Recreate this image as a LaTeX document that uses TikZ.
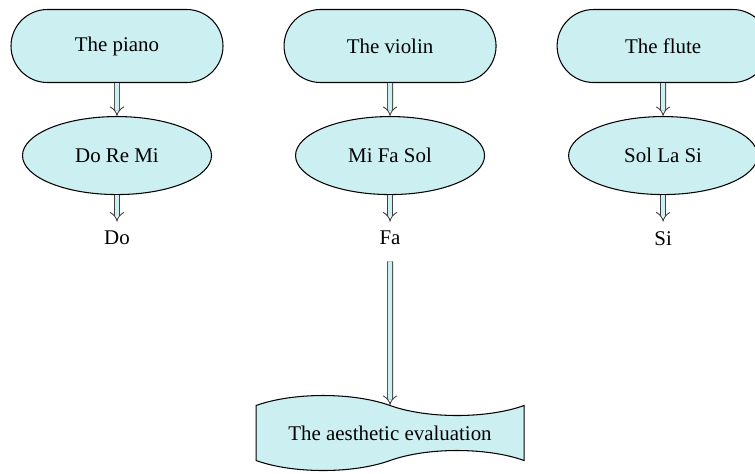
\documentclass[tikz,border=0pt]{standalone}
\usepackage{fontspec}
\setmainfont{Liberation Serif}
\usepackage{xcolor}
\usetikzlibrary{calc}
\usetikzlibrary{positioning}
\usetikzlibrary{arrows.meta}
\usetikzlibrary{shapes.geometric, shapes.symbols, shapes.misc}
\definecolor{boxfill}{RGB}{204,240,242}

\begin{document}
\begin{tikzpicture}[font=\fontsize{11.9}{14.3}\selectfont]
    \tikzstyle{term}=[draw=black, fill=boxfill, rounded rectangle, line width=0.6pt, minimum width=4.24cm, minimum height=1.46cm, inner sep=0pt]
    \tikzstyle{notes}=[draw=black, fill=boxfill, ellipse, line width=0.6pt, minimum width=3.78cm, minimum height=1.56cm, inner sep=0pt]
    \tikzstyle{doc}=[draw=black, fill=boxfill, tape, tape bend top=out and in, tape bend bottom=in and out, tape bend height=0.4cm, line width=0.6pt, minimum width=5.36cm, minimum height=1.5cm, inner sep=0pt]
    \tikzstyle{flow}=[draw=black!75, double=boxfill, double distance=2.4pt, line width=0.5pt, -{Implies}]

    \useasboundingbox (-2.34, 0.92) rectangle (12.76, -8.54);

	\node[term] (piano) {The piano};
	\node[term, right=1.2cm of piano] (violin) {The violin};
	\node[term, right=1.2cm of violin] (flute) {The flute};

	\node[notes, below=0.66cm of piano] (domi) {Do Re Mi};
	\node[notes, below=0.66cm of violin] (misol) {Mi Fa Sol};
	\node[notes, below=0.66cm of flute] (solsi) {Sol La Si};

	\node[below=0.6cm of domi] (do) {Do};
	\node[below=0.6cm of misol] (fa) {Fa};
	\node[below=0.6cm of solsi] (si) {Si};

	\node[doc] (eval) at ($(violin)-(0, 7.74cm)$) {The aesthetic evaluation};

    \draw[flow] (piano) -- (domi);
    \draw[flow] (violin) -- (misol);
    \draw[flow] (flute) -- (solsi);
    \draw[flow, shorten >= 2pt] (domi) -- (do);
    \draw[flow, shorten >= 2pt] (misol) -- (fa);
    \draw[flow, shorten >= 2pt] (solsi) -- (si);
    \draw[flow, shorten <= 0.2cm] (fa) -- (eval);
\end{tikzpicture}
\end{document}
